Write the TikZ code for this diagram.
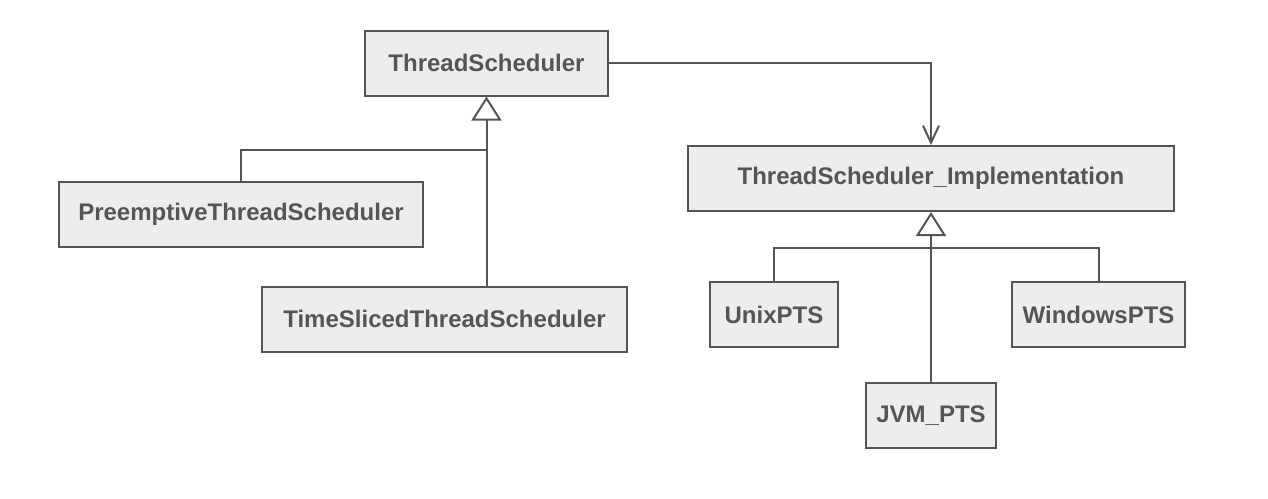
\documentclass[tikz,border=0pt]{standalone}
\usepackage{fontspec}
\setmainfont{Liberation Sans}
\usetikzlibrary{positioning, arrows.meta}
\definecolor{mgray}{HTML}{555555}
\definecolor{mfill}{HTML}{EDEDED}
\tikzset{
  cls/.style={draw=mgray,fill=mfill,line width=1pt,text=mgray,font=\bfseries\fontsize{12}{14}\selectfont,minimum height=32.5pt,inner sep=0pt}, % class boxes
  link/.style={draw=mgray,line width=1pt},
  inherit/.style={link,-{Triangle[open,length=12pt,width=15pt,fill=white]}},
  assoc/.style={link,-{Straight Barb[length=8.5pt,width=8pt]}}
}

\begin{document}
\begin{tikzpicture}[x=0.5pt,y=-0.5pt]
  \useasboundingbox (0,0) rectangle (1268,498);

  % classes
  \node[cls,minimum width=121.5pt] (ts) at (486.5,63) {ThreadScheduler};
  \node[cls,minimum width=182pt] (pre) at (241,214.5) {PreemptiveThreadScheduler};
  \node[cls,minimum width=182.5pt] (tsl) at (444.5,319) {TimeSlicedThreadScheduler};
  \node[cls,minimum width=243pt] (impl) at (931,178.5) {ThreadScheduler\_Implementation};
  \node[cls,minimum width=64pt] (unix) at (774,314.5) {UnixPTS};
  \node[cls,minimum width=86.5pt] (win) at (1098.5,314.5) {WindowsPTS};
  \node[cls,minimum width=65pt] (jvm) at (931,415.5) {JVM\_PTS};

  % joints of the trees
  \coordinate (tsjoin) at (486.5,150);
  \coordinate (impljoin) at (931,248);

  % inheritance
  \draw[link] (pre.north) |- (tsjoin);
  \draw[inherit] (ts.south |- tsl.north) -- (ts.south);
  \draw[link] (unix.north) |- (impljoin) -| (win.north);
  \draw[inherit] (jvm.north) -- (impl.south);

  % association
  \draw[assoc] (ts.east) -| (impl.north);

\end{tikzpicture}
\end{document}
